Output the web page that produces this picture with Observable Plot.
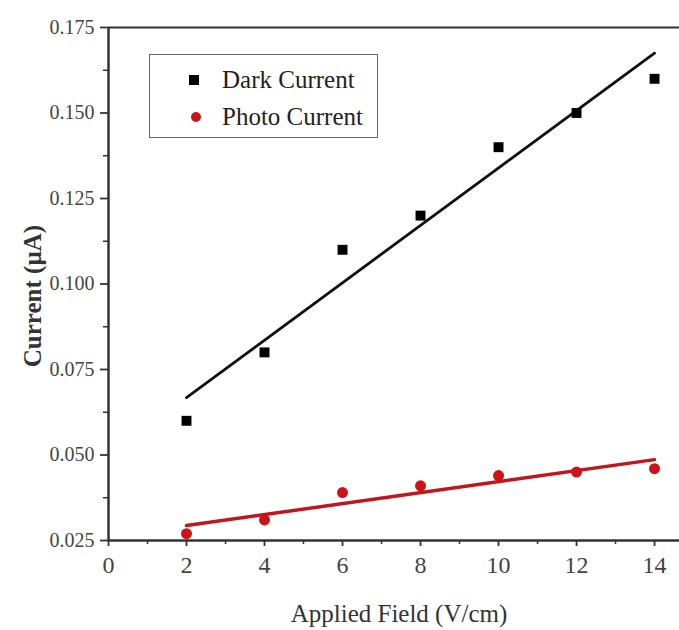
<!DOCTYPE html>
<html>
<head>
<meta charset="utf-8">
<script src="https://cdn.jsdelivr.net/npm/d3@7"></script>
<script src="https://cdn.jsdelivr.net/npm/@observablehq/plot@0.6"></script>
<style>
  html, body { margin: 0; padding: 0; background: #fff; }
  #wrap { position: relative; width: 679px; height: 630px; }
  #legend {
    position: absolute; left: 149px; top: 54px; width: 229px; height: 84px;
    border: 1.5px solid #666; background: #fff; box-sizing: border-box;
    font-family: "Liberation Serif", serif; font-size: 25px; color: #222;
  }
  .row { position: absolute; left: 0; height: 30px; width: 100%; }
  .sq { position: absolute; left: 39px; top: 10px; width: 10px; height: 10px; background: #000; }
  .ci { position: absolute; left: 41px; top: 10px; width: 10px; height: 10px; border-radius: 50%; background: #cc1418; }
  .lbl { position: absolute; left: 72px; top: 0; line-height: 30px; white-space: nowrap; }
</style>
</head>
<body>
<div id="wrap"></div>
<script>
const fields = [2, 4, 6, 8, 10, 12, 14];
const darkCurrent = [0.060, 0.080, 0.110, 0.120, 0.140, 0.150, 0.160];
const photoCurrent = [0.027, 0.031, 0.039, 0.041, 0.044, 0.045, 0.046];
const seriesNames = ["Dark Current", "Photo Current"];
const xTicks = [0, 2, 4, 6, 8, 10, 12, 14];
const xMinor = [1, 3, 5, 7, 9, 11, 13];
const yTicks = [0.025, 0.050, 0.075, 0.100, 0.125, 0.150, 0.175];
const yMinor = [0.0375, 0.0625, 0.0875, 0.1125, 0.1375, 0.1625];
const xLabel = "Applied Field (V/cm)";
const yLabel = "Current (\u00b5A)";

const dark = fields.map((x, i) => ({x, y: darkCurrent[i]}));
const photo = fields.map((x, i) => ({x, y: photoCurrent[i]}));

const axisColor = "#333";
const textColor = "#444";
const plot = Plot.plot({
  width: 679,
  height: 630,
  marginLeft: 108,
  marginRight: 0,
  marginTop: 27,
  marginBottom: 90,
  style: {fontFamily: "Liberation Serif, serif", background: "#fff", color: textColor},
  x: {domain: [0, 14.64], label: null},
  y: {domain: [0.025, 0.175], label: null},
  marks: [
    Plot.axisX({ticks: xTicks, tickSize: 6, tickPadding: 9, fontSize: 24, tickFormat: d3.format("d"), stroke: axisColor, strokeWidth: 1.8, fill: textColor, label: null}),
    Plot.axisX({ticks: xMinor, tickSize: 4, tickFormat: () => "", stroke: axisColor, strokeWidth: 1.5, label: null}),
    Plot.axisY({ticks: yTicks, tickSize: 8, tickPadding: 6, fontSize: 20, tickFormat: d3.format(".3f"), stroke: axisColor, strokeWidth: 1.8, fill: textColor, label: null}),
    Plot.axisY({ticks: yMinor, tickSize: 5, tickFormat: () => "", stroke: axisColor, strokeWidth: 1.5, label: null}),
    Plot.ruleY([0.175], {stroke: axisColor, strokeWidth: 2}),
    Plot.ruleY([0.025], {stroke: axisColor, strokeWidth: 2.5}),
    Plot.ruleX([0], {stroke: axisColor, strokeWidth: 2.5}),
    Plot.linearRegressionY(dark, {x: "x", y: "y", ci: 0, stroke: "#111", strokeWidth: 2.8}),
    Plot.linearRegressionY(photo, {x: "x", y: "y", ci: 0, stroke: "#c0161c", strokeWidth: 3.5}),
    Plot.dot(dark, {x: "x", y: "y", symbol: "square", r: 5.6, fill: "#000", stroke: null}),
    Plot.dot(photo, {x: "x", y: "y", symbol: "circle", r: 5.5, fill: "#cc1418", stroke: null}),
    Plot.text([xLabel], {frameAnchor: "bottom", lineAnchor: "middle", textAnchor: "middle", dx: 5, dy: 73, fontSize: 25, fill: "#333"}),
    Plot.text([yLabel], {frameAnchor: "left", lineAnchor: "middle", textAnchor: "middle", rotate: -90, dx: -76, dy: 12, fontSize: 25, fontWeight: "bold", fill: "#333"})
  ]
});
const wrap = document.getElementById("wrap");
wrap.appendChild(plot);

const legend = document.createElement("div");
legend.id = "legend";
legend.innerHTML = `
  <div class="row" style="top:10px"><span class="sq"></span><span class="lbl">${seriesNames[0]}</span></div>
  <div class="row" style="top:47px"><span class="ci"></span><span class="lbl">${seriesNames[1]}</span></div>`;
wrap.appendChild(legend);
</script>
</body>
</html>
